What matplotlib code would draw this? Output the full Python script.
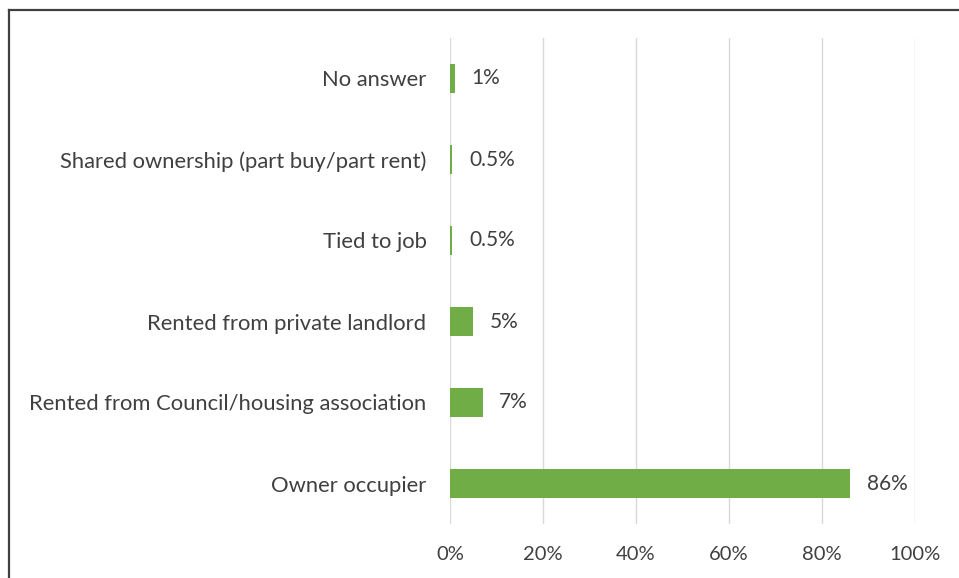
import matplotlib
matplotlib.use("Agg")
import matplotlib.pyplot as plt
from matplotlib.lines import Line2D

categories = [
    "Owner occupier",
    "Rented from Council/housing association",
    "Rented from private landlord",
    "Tied to job",
    "Shared ownership (part buy/part rent)",
    "No answer",
]
values = [86, 7, 5, 0.5, 0.5, 1]
value_labels = ["86%", "7%", "5%", "0.5%", "0.5%", "1%"]
x_ticks = [0, 20, 40, 60, 80, 100]

text_color = "#404040"
bar_color = "#70AD47"

plt.rcParams["font.family"] = ["Lato", "DejaVu Sans"]

fig = plt.figure(figsize=(9.59, 5.78), dpi=100)
ax = fig.add_axes([450 / 959, 1 - 524 / 578, 465 / 959, 486 / 578])

y = list(range(len(categories)))
ax.barh(y, values, height=0.36, color=bar_color, zorder=3)

for yi, v, lab in zip(y, values, value_labels):
    ax.annotate(lab, (v, yi), xytext=(12, 0), textcoords="offset points",
                va="center", ha="left", fontsize=15, color=text_color)

ax.set_xlim(0, 100)
ax.set_ylim(-0.5, len(categories) - 0.5)
ax.set_yticks(y)
ax.set_yticklabels(categories, fontsize=15.8)
ax.set_xticks(x_ticks)
ax.set_xticklabels([f"{t}%" for t in x_ticks], fontsize=14.5)
ax.tick_params(axis="both", length=0, labelcolor=text_color)
ax.tick_params(axis="y", pad=17)
ax.tick_params(axis="x", pad=16)
ax.grid(axis="x", color="#D9D9D9", linewidth=1, zorder=0)
for s in ax.spines.values():
    s.set_visible(False)

# frame lines on the top and left edges
fig.add_artist(Line2D([8.5 / 959, 1], [1 - 9.5 / 578, 1 - 9.5 / 578],
                      transform=fig.transFigure, color="#404040", linewidth=1.6))
fig.add_artist(Line2D([8.5 / 959, 8.5 / 959], [0, 1 - 9.5 / 578],
                      transform=fig.transFigure, color="#404040", linewidth=1.6))

fig.savefig("out.png", dpi=100)
